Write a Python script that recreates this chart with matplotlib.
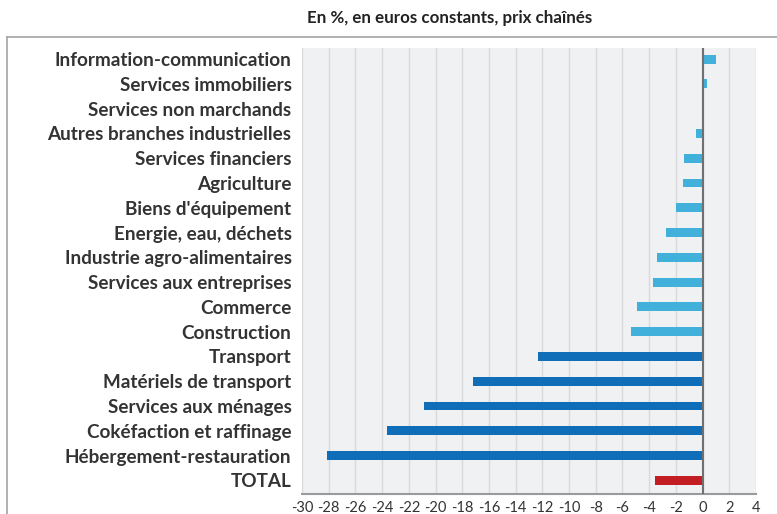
import matplotlib
matplotlib.use("Agg")
import matplotlib.pyplot as plt
from matplotlib.lines import Line2D

categories = [
    "Information-communication", "Services immobiliers", "Services non marchands",
    "Autres branches industrielles", "Services financiers", "Agriculture",
    "Biens d'équipement", "Energie, eau, déchets", "Industrie agro-alimentaires",
    "Services aux entreprises", "Commerce", "Construction", "Transport",
    "Matériels de transport", "Services aux ménages", "Cokéfaction et raffinage",
    "Hébergement-restauration", "TOTAL",
]
values = [1.0, 0.35, 0.1, -0.5, -1.4, -1.5, -2.0, -2.75, -3.4, -3.7, -4.9, -5.35,
          -12.3, -17.2, -20.9, -23.6, -28.1, -3.6]
groups = ["light"] * 12 + ["dark"] * 5 + ["total"]
group_colors = {"light": "#41B0DA", "dark": "#106EB8", "total": "#C41E25"}
xticks = list(range(-30, 5, 2))
title = "En %, en euros constants, prix chaînés"

plt.rcParams['font.family'] = ['Lato', 'DejaVu Sans']

fig = plt.figure(figsize=(7.77, 5.14), dpi=100)
W, H = 777, 514
ax = fig.add_axes([302 / W, 1 - 494 / H, (756 - 302) / W, (494 - 48) / H])
ax.set_facecolor("#F0F1F3")

y = list(range(len(categories)))
ax.barh(y, values, height=0.36, color=[group_colors[g] for g in groups], zorder=3)
ax.set_ylim(len(categories) - 0.45, -0.45)
ax.set_xlim(-30, 4)
ax.set_xticks(xticks)
ax.set_xticklabels([str(t) for t in xticks], fontsize=10.5, color="#333333")
ax.set_yticks(y)
ax.set_yticklabels(categories, fontsize=13.6, fontweight="bold", color="#333333")
ax.tick_params(axis="y", length=0, pad=7.5)
ax.tick_params(axis="x", length=0, pad=5)
ax.grid(axis="x", color="#D9D9DB", linewidth=1, zorder=0)
ax.axvline(0, color="#707070", linewidth=1.5, zorder=4)
for s in ["top", "right", "left"]:
    ax.spines[s].set_visible(False)
ax.spines["bottom"].set_color("#9A9A9A")
ax.spines["bottom"].set_linewidth(1.5)

# outer frame (left and top lines)
fig.add_artist(Line2D([7 / W, 7 / W], [0, 1 - 37 / H], transform=fig.transFigure,
                      color="#AAAAAA", linewidth=1.3))
fig.add_artist(Line2D([7 / W, 1], [1 - 37 / H, 1 - 37 / H], transform=fig.transFigure,
                      color="#AAAAAA", linewidth=1.3))

fig.text(450 / W, 1 - 18 / H, title, ha="center", va="center", fontsize=12.2,
         fontweight="bold", color="#222222")

fig.savefig("out.png", dpi=100, facecolor="white")
